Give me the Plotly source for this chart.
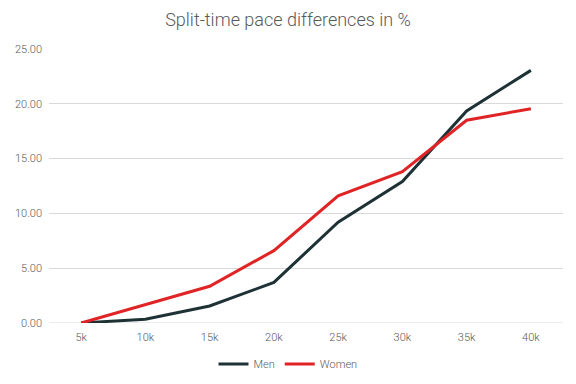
import plotly.graph_objects as go

categories = ["5k", "10k", "15k", "20k", "25k", "30k", "35k", "40k"]
men = [0.0, 0.35, 1.55, 3.7, 9.2, 12.9, 19.35, 23.05]
women = [0.0, 1.7, 3.35, 6.6, 11.6, 13.8, 18.5, 19.55]

fig = go.Figure()
fig.add_trace(go.Scatter(x=categories, y=men, mode="lines", name="Men",
                         line=dict(color="#1E3236", width=3)))
fig.add_trace(go.Scatter(x=categories, y=women, mode="lines", name="Women",
                         line=dict(color="#E02426", width=3)))

fig.update_layout(
    width=576, height=384,
    margin=dict(l=49, r=13, t=49, b=61, autoexpand=False),
    paper_bgcolor="white", plot_bgcolor="white",
    font=dict(family="Roboto", color="#595959", size=11, weight=300),
    title=dict(text="Split-time pace differences in %", x=0.5, xanchor="center",
               y=0.948, yanchor="middle",
               font=dict(family="Roboto", size=18, color="#595959", weight=300)),
    xaxis=dict(type="category", range=[-0.5, 7.5], showgrid=False,
               showline=False, ticks="", zeroline=False, automargin=False,
               ticklabelstandoff=6),
    yaxis=dict(range=[0, 25], tickvals=[0, 5, 10, 15, 20, 25], tickformat=".2f",
               showgrid=True, gridcolor="#D9D9D9", gridwidth=1, zeroline=False,
               showline=False, ticks="", ticklabelstandoff=6, automargin=False),
    legend=dict(orientation="h", xref="container", yref="container",
                x=0.5, xanchor="center", y=1 - 364 / 384, yanchor="middle",
                font=dict(size=11, color="#595959"), itemwidth=30,
                tracegroupgap=0),
    showlegend=True,
)
fig.add_shape(type="line", xref="paper", yref="y", x0=0, x1=1, y0=0, y1=0,
              line=dict(color="#D9D9D9", width=1), layer="below")

fig.write_html("out.html", config={"displayModeBar": False},
               post_script="document.body.style.margin='0';document.body.style.overflow='hidden';")
